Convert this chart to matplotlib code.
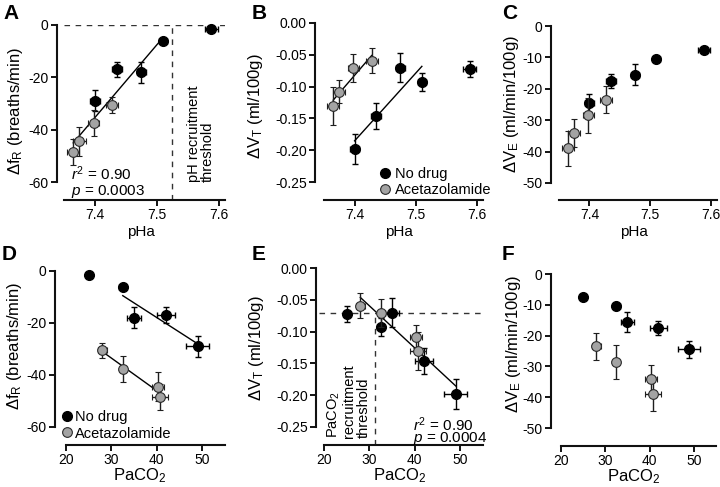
import numpy as np
import matplotlib
matplotlib.use("Agg")
import matplotlib.pyplot as plt
from matplotlib.lines import Line2D

plt.rcParams["font.family"] = ["Liberation Sans", "DejaVu Sans"]
plt.rcParams["mathtext.fontset"] = "custom"
plt.rcParams["mathtext.rm"] = "Liberation Sans"
plt.rcParams["mathtext.it"] = "Liberation Sans:italic"
plt.rcParams["mathtext.default"] = "regular"

# No drug group (5 points)
ph_nd = [7.400, 7.435, 7.475, 7.510, 7.588]
ph_nd_err = [0.008, 0.008, 0.007, 0.006, 0.010]
paco2_nd = [49.0, 42.0, 35.0, 32.5, 25.0]
paco2_nd_err = [2.5, 2.0, 1.5, 0.8, 0.5]
fr_nd = [-29.0, -17.0, -18.0, -6.0, -1.5]
fr_nd_err = [4.0, 3.0, 4.0, 1.0, 0.5]
vt_nd = [-0.198, -0.146, -0.070, -0.093, -0.072]
vt_nd_err = [0.024, 0.020, 0.023, 0.014, 0.013]
ve_nd = [-24.5, -17.5, -15.5, -10.5, -7.5]
ve_nd_err = [2.8, 2.3, 3.3, 1.0, 0.5]

# Acetazolamide group (4 points)
ph_az = [7.365, 7.375, 7.398, 7.428]
ph_az_err = [0.010, 0.010, 0.009, 0.010]
paco2_az = [40.7, 40.3, 32.5, 28.0]
paco2_az_err = [1.8, 1.3, 0.4, 1.0]
fr_az = [-48.5, -44.5, -37.5, -30.5]
fr_az_err = [5.0, 5.5, 5.0, 3.0]
vt_az = [-0.130, -0.108, -0.070, -0.059]
vt_az_err = [0.030, 0.018, 0.022, 0.019]
ve_az = [-39.0, -34.0, -28.5, -23.5]
ve_az_err = [5.5, 4.5, 5.5, 4.3]

ph_threshold = 7.525
paco2_threshold = 31.3
vt_threshold = -0.07

GRAY = "#a3a3a3"
W, H = 720, 487


def make_ax(fig, box, xr, yr, xticks, yticks, yfmt):
    # box: left spine px, data left px, data right px, data top px,
    #      data bottom px, bottom spine px
    sx, l, r, t, b, sy = box
    xs = (r - l) / (xr[1] - xr[0])
    ys = (b - t) / (yr[1] - yr[0])
    ax = fig.add_axes([sx / W, 1 - sy / H, (r - sx) / W, (sy - t) / H])
    ax.set_xlim(xr[0] - (l - sx) / xs, xr[1])
    ax.set_ylim(yr[0] - (sy - b) / ys, yr[1])
    ax.set_xticks(xticks)
    ax.set_yticks(yticks)
    ax.set_yticklabels([yfmt.format(v) for v in yticks])
    for s in ("top", "right"):
        ax.spines[s].set_visible(False)
    ax.spines["left"].set_bounds(yr[0], yr[1])
    ax.spines["bottom"].set_bounds(xr[0], xr[1])
    for s in ("left", "bottom"):
        ax.spines[s].set_linewidth(1.5)
        ax.spines[s].set_color("#111111")
    ax.tick_params(direction="out", length=4, width=1.3, labelsize=10, pad=2)
    return ax


def points(ax, x_nd, xe_nd, y_nd, ye_nd, x_az, xe_az, y_az, ye_az):
    kw = dict(fmt="o", ms=7, capsize=2.5, elinewidth=1, capthick=1)
    c1 = ax.errorbar(x_nd, y_nd, xerr=xe_nd, yerr=ye_nd, color="black",
                     mfc="black", mec="black", zorder=3, **kw)
    c2 = ax.errorbar(x_az, y_az, xerr=xe_az, yerr=ye_az, color="#1e1e1e",
                     mfc=GRAY, mec="#2a2a2a", mew=0.8, zorder=4, **kw)
    for c in (c1, c2):
        for a in c.get_children():
            a.set_clip_on(False)


def fit_line(ax, x, y):
    x = np.asarray(x)
    y = np.asarray(y)
    k, b0 = np.polyfit(x, y, 1)
    xx = np.array([x.min(), x.max()])
    ax.plot(xx, k * xx + b0, color="black", lw=1, zorder=2)


def legend(ax, x, y, pad):
    h = [Line2D([], [], ls="none", marker="o", ms=7, mfc="black", mec="black"),
         Line2D([], [], ls="none", marker="o", ms=7, mfc=GRAY, mec="#2a2a2a", mew=0.8)]
    ax.legend(h, ["No drug", "Acetazolamide"], loc="center left",
              bbox_to_anchor=(x, y), bbox_transform=ax.transData,
              frameon=False, fontsize=10.5,
              handlelength=0.7, handletextpad=pad, labelspacing=0.15,
              borderpad=0, borderaxespad=0)


DASH = dict(color="#333333", lw=1, ls=(0, (4, 4)), zorder=1)


def dashed_v(ax, x, ytop):
    y0 = ax.get_ylim()[0]
    ax.plot([x, x], [y0, ytop], **DASH)


def dashed_h(ax, y, x0, x1):
    ax.plot([x0, x1], [y, y], **DASH)


fig = plt.figure(figsize=(7.2, 4.87), dpi=100)

ph_lim = (7.35, 7.61)
pc_lim = (20, 55)
ph_ticks = [7.4, 7.5, 7.6]
pc_ticks = [20, 30, 40, 50]
fr_ticks = [0, -20, -40, -60]
vt_ticks = [0.0, -0.05, -0.10, -0.15, -0.20, -0.25]
ve_ticks = [0, -10, -20, -30, -40, -50]
lab_fs = 12

# A
axA = make_ax(fig, (57, 64, 225, 25, 182, 200), ph_lim, (-60, 0), ph_ticks, fr_ticks, "{:g}")
dashed_h(axA, 0, *ph_lim)
dashed_v(axA, ph_threshold, 0)
points(axA, ph_nd, ph_nd_err, fr_nd, fr_nd_err, ph_az, ph_az_err, fr_az, fr_az_err)
fit_line(axA, ph_nd[:4] + ph_az, fr_nd[:4] + fr_az)
axA.text(7.3615, -57.0, r"$\mathit{r}^2$ = 0.90", fontsize=11, va="center")
axA.text(7.3615, -63.5, r"$\mathit{p}$ = 0.0003", fontsize=11, va="center")
axA.text(7.571, -60, "pH recruitment\nthreshold", rotation=90, fontsize=10.5,
         ha="center", va="bottom", multialignment="left", linespacing=1.0)
axA.set_xlabel("pHa", fontsize=11, labelpad=2)
axA.set_ylabel("Δf$_{R}$ (breaths/min)", fontsize=lab_fs)
axA.yaxis.set_label_coords(-0.19, 0.51)

# B
axB = make_ax(fig, (315, 324, 483, 23, 182, 200), ph_lim, (-0.25, 0), ph_ticks, vt_ticks, "{:.2f}")
points(axB, ph_nd, ph_nd_err, vt_nd, vt_nd_err, ph_az, ph_az_err, vt_az, vt_az_err)
fit_line(axB, ph_nd[:4], vt_nd[:4])
fit_line(axB, ph_az, vt_az)
legend(axB, 7.4415, -0.2505, 0.3)
axB.set_xlabel("pHa", fontsize=11, labelpad=2)
axB.set_ylabel("ΔV$_{T}$ (ml/100g)", fontsize=lab_fs)
axB.yaxis.set_label_coords(-0.296, 0.53)

# C
axC = make_ax(fig, (551, 559, 717, 26, 183, 200), ph_lim, (-50, 0), ph_ticks, ve_ticks, "{:g}")
points(axC, ph_nd, ph_nd_err, ve_nd, ve_nd_err, ph_az, ph_az_err, ve_az, ve_az_err)
axC.set_xlabel("pHa", fontsize=11, labelpad=2)
axC.set_ylabel("ΔV$_{E}$ (ml/min/100g)", fontsize=lab_fs)
axC.yaxis.set_label_coords(-0.18, 0.55)

# D
axD = make_ax(fig, (55, 66, 225, 271, 427, 445), pc_lim, (-60, 0), pc_ticks, fr_ticks, "{:g}")
points(axD, paco2_nd, paco2_nd_err, fr_nd, fr_nd_err, paco2_az, paco2_az_err, fr_az, fr_az_err)
fit_line(axD, paco2_nd[:4], fr_nd[:4])
fit_line(axD, paco2_az, fr_az)
legend(axD, 19.0, -59.4, 0.2)
axD.set_xlabel("PaCO$_{2}$", fontsize=lab_fs, labelpad=-1)
axD.set_ylabel("Δf$_{R}$ (breaths/min)", fontsize=lab_fs)
axD.yaxis.set_label_coords(-0.18, 0.57)

# E
axE = make_ax(fig, (316, 324, 483, 268, 427, 445), pc_lim, (-0.25, 0), pc_ticks, vt_ticks, "{:.2f}")
dashed_h(axE, vt_threshold, pc_lim[0] - 1, pc_lim[1])
dashed_v(axE, paco2_threshold, vt_threshold)
points(axE, paco2_nd, paco2_nd_err, vt_nd, vt_nd_err, paco2_az, paco2_az_err, vt_az, vt_az_err)
fit_line(axE, paco2_nd[:4] + paco2_az, vt_nd[:4] + vt_az)
axE.text(39.5, -0.246, r"$\mathit{r}^2$ = 0.90", fontsize=11, va="center")
axE.text(39.5, -0.268, r"$\mathit{p}$ = 0.0004", fontsize=11, va="center")
axE.text(25.3, -0.267, "PaCO$_{2}$\nrecruitment\nthreshold", rotation=90,
         fontsize=10.5, ha="center", va="bottom", multialignment="left",
         linespacing=1.0)
axE.set_xlabel("PaCO$_{2}$", fontsize=lab_fs, labelpad=-1)
axE.set_ylabel("ΔV$_{T}$ (ml/100g)", fontsize=lab_fs)
axE.yaxis.set_label_coords(-0.3, 0.55)

# F
axF = make_ax(fig, (551, 561, 716, 274, 428, 446), pc_lim, (-50, 0), pc_ticks, ve_ticks, "{:g}")
points(axF, paco2_nd, paco2_nd_err, ve_nd, ve_nd_err, paco2_az, paco2_az_err, ve_az, ve_az_err)
axF.set_xlabel("PaCO$_{2}$", fontsize=lab_fs, labelpad=-1)
axF.set_ylabel("ΔV$_{E}$ (ml/min/100g)", fontsize=lab_fs)
axF.yaxis.set_label_coords(-0.17, 0.59)

for letter, (px, py) in zip("ABCDEF", [(3, 4), (252, 4), (502, 4),
                                       (2, 245), (252, 245), (502, 245)]):
    fig.text(px / W, 1 - py / H, letter, fontsize=15, fontweight="bold",
             ha="left", va="top")

fig.savefig("out.png", dpi=100)
